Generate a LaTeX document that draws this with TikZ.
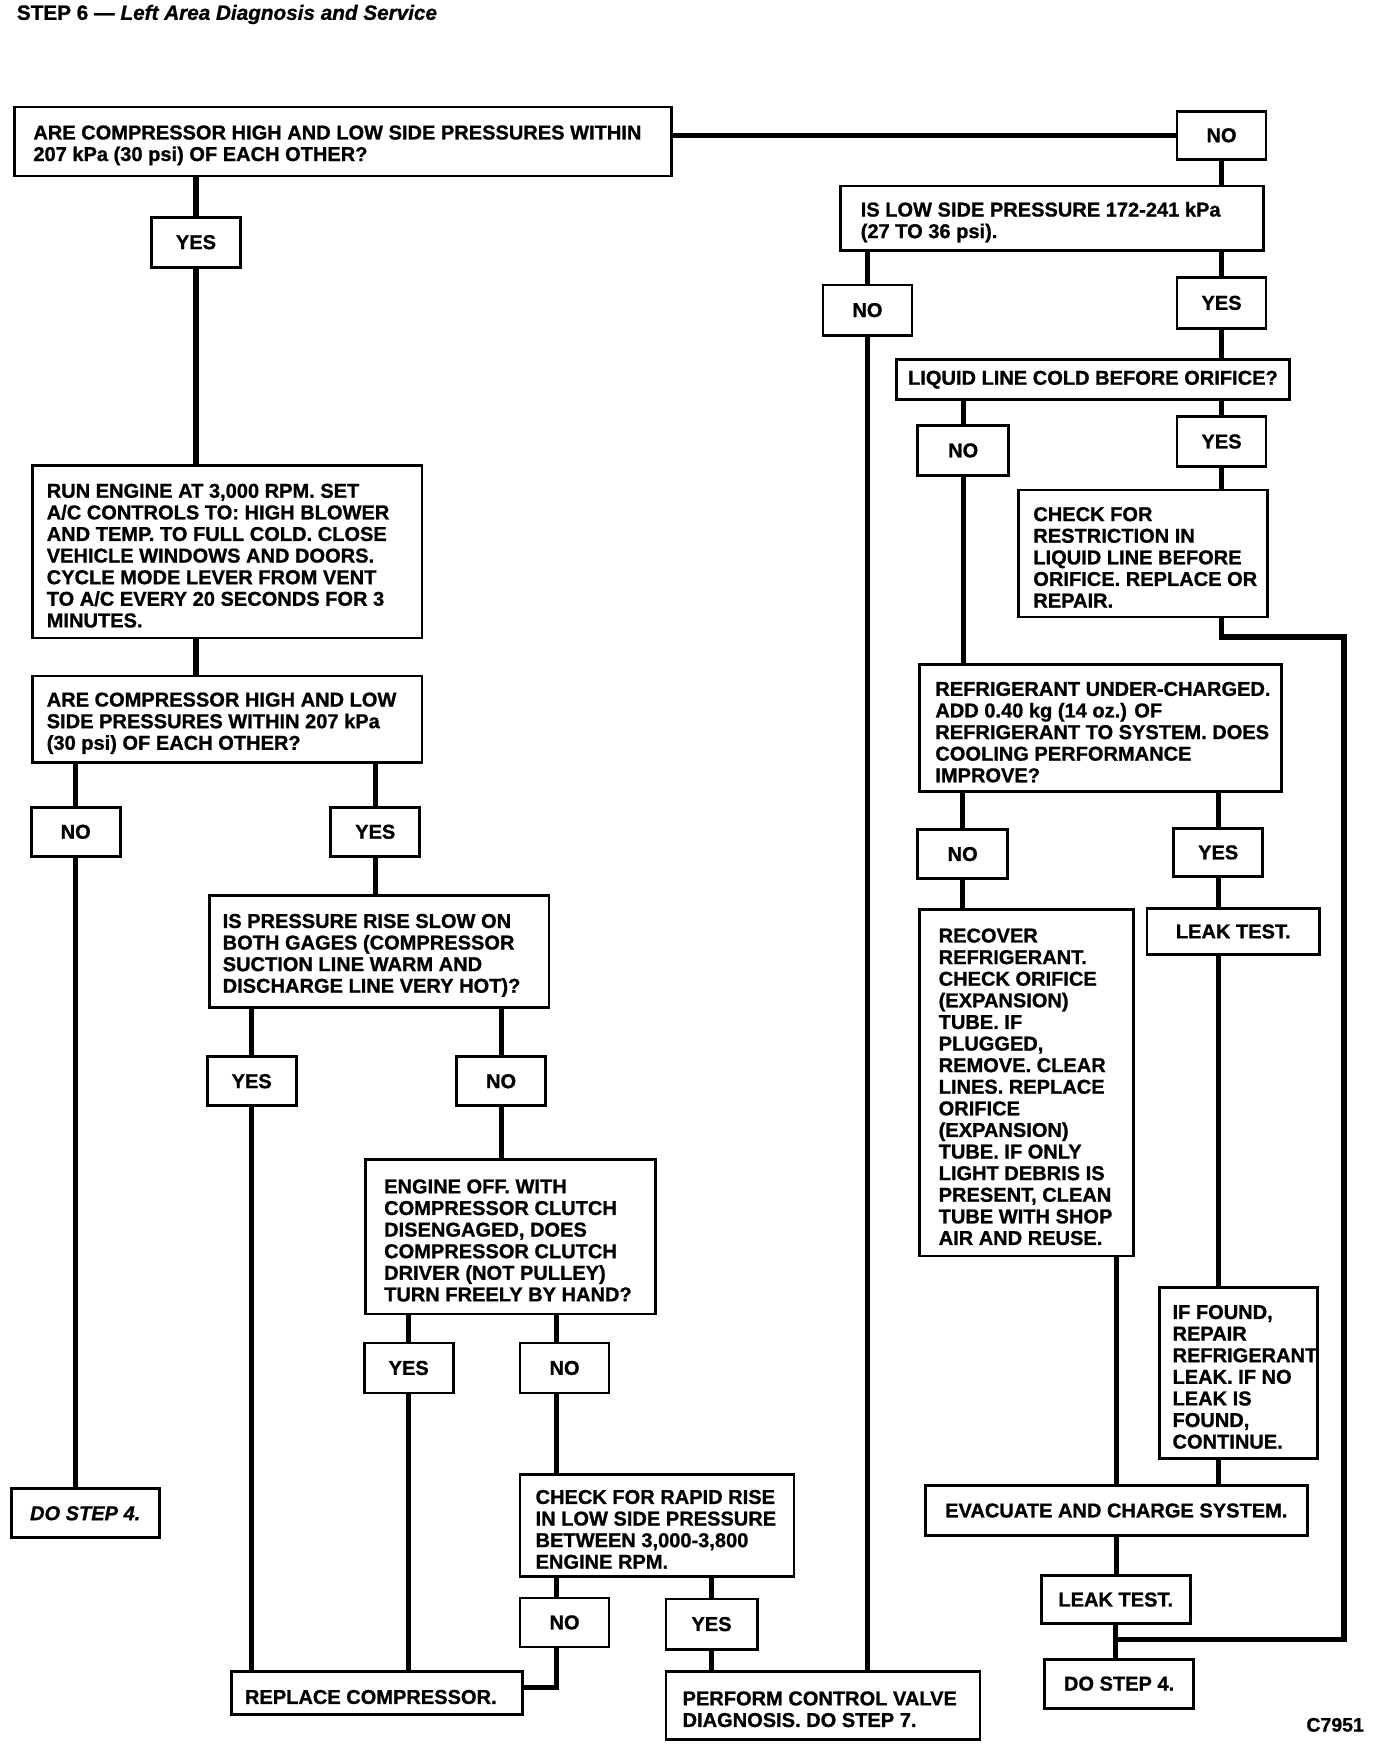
\documentclass[tikz,border=0pt]{standalone}
\usepackage{fontspec}
\setmainfont{Liberation Sans}[BoldFeatures={FakeBold=1.0},BoldItalicFeatures={FakeBold=1.0}]
\newcommand\bodyfont{\fontsize{18}{19.4}\selectfont\bfseries}
\tikzset{
  boxst/.style={draw, line width=2.5pt, inner sep=0pt, outer sep=0pt, rectangle, fill=white},
  txtst/.style={inner sep=0pt, outer sep=0pt, align=left, font=\bodyfont},
  lblst/.style={boxst, align=center, font=\bodyfont},
  conn/.style={line width=4.6pt, line join=miter},
}
% text box: name, x1, y1, x2, y2, inset, text
\newcommand\tbox[7]{%
  \node[boxst, minimum width={(#4)-(#2)}, minimum height={(#5)-(#3)}] (#1) at ({((#2)+(#4))/2},{((#3)+(#5))/2}) {};
  \node[txtst, anchor=west] (#1t) at ([xshift=#6pt, yshift=-3.5pt]#1.west) {#7};}
% centred box: name, x1, y1, x2, y2, text
\newcommand\cbox[6]{%
  \node[lblst, minimum width={(#4)-(#2)}, minimum height={(#5)-(#3)}] (#1) at ({((#2)+(#4))/2},{((#3)+(#5))/2}) {#6};}
\begin{document}
\begin{tikzpicture}[x=1pt,y=-1pt]
\useasboundingbox (0,0) rectangle (1236,1568);

% title and figure code
\node[inner sep=0pt, anchor=west, font=\fontsize{18.6}{20}\selectfont\bfseries] (title) at (15,13)
  {STEP 6 --- \itshape Left Area Diagnosis and Service};
\node[inner sep=0pt, anchor=east, font=\fontsize{17.5}{19}\selectfont\bfseries] (code) at (1225,1549) {C7951};

% ---- right branch ----
\tbox{q1}{13}{96}{603}{158}{17}{ARE COMPRESSOR HIGH AND LOW SIDE PRESSURES WITHIN\\207 kPa (30 psi) OF EACH OTHER?}
\cbox{no1}{1057}{100}{1137}{143}{NO}
\tbox{q2}{755}{167}{1135}{225}{18}{IS LOW SIDE PRESSURE 172-241 kPa\\(27 TO 36 psi).}
\cbox{no2}{739}{256}{819}{301}{NO}
\cbox{yes2}{1057}{249}{1137}{295}{YES}
\cbox{liq}{805}{323}{1158}{359}{LIQUID LINE COLD BEFORE ORIFICE?}
\cbox{no3}{824}{382}{906}{427}{NO}
\cbox{yes3}{1057}{374}{1137}{419}{YES}
\tbox{chk}{915}{440}{1138}{554}{13}{CHECK FOR\\RESTRICTION IN\\LIQUID LINE BEFORE\\ORIFICE. REPLACE OR\\REPAIR.}
\tbox{ref}{826}{597}{1151}{711}{14}{REFRIGERANT UNDER-CHARGED.\\ADD 0.40 kg (14 oz.) OF\\REFRIGERANT TO SYSTEM. DOES\\COOLING PERFORMANCE\\IMPROVE?}
\cbox{no4}{824}{745}{905}{789}{NO}
\cbox{yes4}{1054}{744}{1134}{787}{YES}
\tbox{rec}{826}{817}{1018}{1128}{17}{RECOVER\\REFRIGERANT.\\CHECK ORIFICE\\(EXPANSION)\\TUBE. IF\\PLUGGED,\\REMOVE. CLEAR\\LINES. REPLACE\\ORIFICE\\(EXPANSION)\\TUBE. IF ONLY\\LIGHT DEBRIS IS\\PRESENT, CLEAN\\TUBE WITH SHOP\\AIR AND REUSE.}
\cbox{leak1}{1030}{816}{1185}{857}{LEAK TEST.}
\tbox{iff}{1041}{1156}{1183}{1310}{12}{IF FOUND,\\REPAIR\\REFRIGERANT\\LEAK. IF NO\\LEAK IS\\FOUND,\\CONTINUE.}
\cbox{evac}{831}{1334}{1174}{1379}{EVACUATE AND CHARGE SYSTEM.}
\cbox{leak2}{935}{1415}{1069}{1458}{LEAK TEST.}
\cbox{do4b}{938}{1490}{1072}{1534}{DO STEP 4.}
\tbox{perf}{598}{1501}{880}{1562}{15}{PERFORM CONTROL VALVE\\DIAGNOSIS. DO STEP 7.}

% ---- left branch ----
\cbox{yes0}{136}{195}{216}{240}{YES}
\tbox{run}{29}{418}{379}{573}{13}{RUN ENGINE AT 3,000 RPM. SET\\A/C CONTROLS TO: HIGH BLOWER\\AND TEMP. TO FULL COLD. CLOSE\\VEHICLE WINDOWS AND DOORS.\\CYCLE MODE LEVER FROM VENT\\TO A/C EVERY 20 SECONDS FOR 3\\MINUTES.}
\tbox{q3}{29}{607}{379}{685}{13}{ARE COMPRESSOR HIGH AND LOW\\SIDE PRESSURES WITHIN 207 kPa\\(30 psi) OF EACH OTHER?}
\cbox{no5}{28}{725}{108}{769}{NO}
\cbox{yes5}{297}{725}{377}{769}{YES}
\cbox{do4a}{10}{1337}{143}{1381}{\itshape DO STEP 4.}
\tbox{q4}{188}{804}{493}{905}{12}{IS PRESSURE RISE SLOW ON\\BOTH GAGES (COMPRESSOR\\SUCTION LINE WARM AND\\DISCHARGE LINE VERY HOT)?}
\cbox{yes6}{186}{949}{266}{993}{YES}
\cbox{no6}{410}{949}{490}{993}{NO}
\tbox{eng}{328}{1041}{589}{1180}{17}{ENGINE OFF. WITH\\COMPRESSOR CLUTCH\\DISENGAGED, DOES\\COMPRESSOR CLUTCH\\DRIVER (NOT PULLEY)\\TURN FREELY BY HAND?}
\cbox{yes7}{327}{1206}{407}{1251}{YES}
\cbox{no7}{467}{1206}{547}{1251}{NO}
\tbox{chk2}{467}{1324}{713}{1416}{14}{CHECK FOR RAPID RISE\\IN LOW SIDE PRESSURE\\BETWEEN 3,000-3,800\\ENGINE RPM.}
\cbox{no8}{467}{1435}{547}{1479}{NO}
\cbox{yes8}{598}{1436}{680}{1481}{YES}
\tbox{repl}{208}{1501}{469}{1540}{12}{REPLACE COMPRESSOR.}

% helper coordinates
\coordinate (c7a) at ([xshift=-7pt]no7.north);
\coordinate (c7b) at ([xshift=-7pt]no7.south);
\coordinate (c8a) at ([xshift=-7pt]no8.north);
\coordinate (c8b) at ([xshift=-7pt]no8.south);
\coordinate (re) at ([yshift=5pt]repl.east);
\coordinate (lpa) at (1207,572);
\coordinate (lpb) at (1207,1472);

% ---- connectors right ----
\draw[conn] (no1.west -| q1.east) -- (no1.west);
\draw[conn] (no1.south) -- (no1.south |- q2.north);
\draw[conn] (q2.south -| no2.north) -- (no2.north);
\draw[conn] (no2.south) -- (no2.south |- perf.north);
\draw[conn] (q2.south -| yes2.north) -- (yes2.north);
\draw[conn] (yes2.south) -- (yes2.south |- liq.north);
\draw[conn] (liq.south -| no3.north) -- (no3.north);
\draw[conn] (no3.south) -- (no3.south |- ref.north);
\draw[conn] (liq.south -| yes3.north) -- (yes3.north);
\draw[conn] (yes3.south) -- (yes3.south |- chk.north);
\draw[conn] (chk.south -| yes3.south) -- (yes3.south |- lpa) -- (lpa) -- (lpb) -- (lpb -| leak2.south);
\draw[conn] (ref.south -| no4.north) -- (no4.north);
\draw[conn] (no4.south) -- (no4.south |- rec.north);
\draw[conn] (ref.south -| yes4.north) -- (yes4.north);
\draw[conn] (yes4.south) -- (yes4.south |- leak1.north);
\draw[conn] (yes4.south |- leak1.south) -- (yes4.south |- iff.north);
\draw[conn] (yes4.south |- iff.south) -- (yes4.south |- evac.north);
\draw[conn] (evac.north |- rec.south) -- (evac.north);
\draw[conn] (evac.south) -- (evac.south |- leak2.north);
\draw[conn] (leak2.south) -- (leak2.south |- do4b.north);

% ---- connectors left ----
\draw[conn] (q1.south -| yes0.north) -- (yes0.north);
\draw[conn] (yes0.south) -- (yes0.south |- run.north);
\draw[conn] (run.south -| yes0.south) -- (q3.north -| yes0.south);
\draw[conn] (q3.south -| no5.north) -- (no5.north);
\draw[conn] (no5.south) -- (no5.south |- do4a.north);
\draw[conn] (q3.south -| yes5.north) -- (yes5.north);
\draw[conn] (yes5.south) -- (yes5.south |- q4.north);
\draw[conn] (q4.south -| yes6.north) -- (yes6.north);
\draw[conn] (yes6.south) -- (yes6.south |- repl.north);
\draw[conn] (q4.south -| no6.north) -- (no6.north);
\draw[conn] (no6.south) -- (no6.south |- eng.north);
\draw[conn] (eng.south -| yes7.north) -- (yes7.north);
\draw[conn] (yes7.south) -- (yes7.south |- repl.north);
\draw[conn] (eng.south -| c7a) -- (c7a);
\draw[conn] (c7b) -- (c7b |- chk2.north);
\draw[conn] (chk2.south -| c8a) -- (c8a);
\draw[conn] (c8b) -- (c8b |- re) -- (re);
\draw[conn] (chk2.south -| yes8.north) -- (yes8.north);
\draw[conn] (yes8.south) -- (yes8.south |- perf.north);
\end{tikzpicture}
\end{document}
